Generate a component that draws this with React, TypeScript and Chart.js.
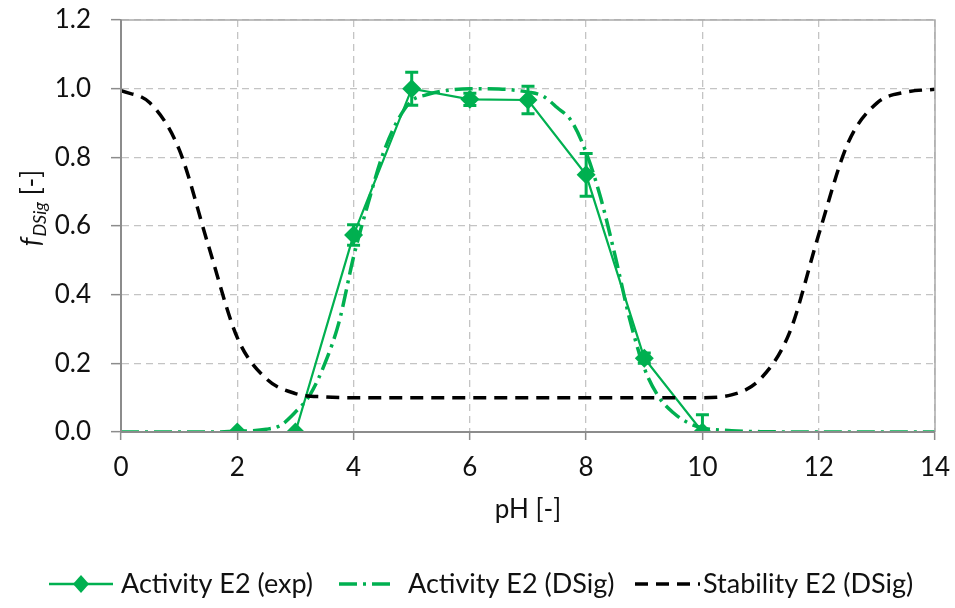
import React, { useEffect, useRef } from "react";
import { Chart, registerables } from "chart.js";

Chart.register(...registerables);

// ---------- data ----------
const expPH = [2, 3, 4, 5, 6, 7, 8, 9, 10];
const expActivity = [0, 0, 0.574, 1.0, 0.969, 0.967, 0.749, 0.215, 0];
const expError = [0, 0, 0.03, 0.048, 0.018, 0.04, 0.062, 0.015, 0.05];

const dsigPH = [0, 0.5, 1, 1.5, 2, 2.5, 2.75, 3, 3.25, 3.5, 3.75, 4, 4.25, 4.5, 4.75, 5, 5.25, 5.5, 6, 6.5, 7, 7.25, 7.5, 7.75, 8, 8.25, 8.5, 8.75, 9, 9.25, 9.5, 9.75, 10, 10.5, 11, 12, 13, 14];
const dsigActivity = [0, 0, 0, 0, 0.002, 0.008, 0.02, 0.058, 0.108, 0.197, 0.32, 0.51, 0.666, 0.807, 0.905, 0.965, 0.982, 0.992, 1.0, 0.999, 0.99, 0.979, 0.945, 0.905, 0.814, 0.682, 0.512, 0.328, 0.186, 0.102, 0.056, 0.027, 0.012, 0.004, 0.001, 0, 0, 0];

const stabPH = [0, 0.5, 1, 1.5, 2, 2.5, 3, 3.5, 4, 5, 6, 7, 8, 9, 10, 10.5, 11, 11.5, 12, 12.5, 13, 13.5, 14];
const stabValues = [0.994, 0.958, 0.823, 0.545, 0.275, 0.155, 0.112, 0.102, 0.1, 0.1, 0.1, 0.1, 0.1, 0.1, 0.1, 0.108, 0.155, 0.29, 0.575, 0.84, 0.958, 0.99, 0.998];

const xTicksMax = 14;
const yTicksMax = 1.2;

const seriesLabels = ["Activity E2 (exp)", "Activity E2 (DSig)", "Stability E2 (DSig)"];
const xTitle = "pH [-]";

// ---------- styles ----------
const GREEN = "#00B050";
const FONT = "Lato, 'Open Sans', sans-serif";
const TEXT = "#111111";
const FS = 26;
const DASHDOT = [18, 6, 3, 6];
const DASHED = [13, 8];

const toPts = (xs: number[], ys: number[]) => xs.map((x, i) => ({ x, y: ys[i] }));

const errorBarPlugin = {
  id: "errorBars",
  afterDatasetsDraw(chart: any) {
    const { ctx, chartArea, scales } = chart;
    const xs = scales.x;
    const ys = scales.y;
    ctx.save();
    ctx.beginPath();
    ctx.rect(chartArea.left, chartArea.top, chartArea.right - chartArea.left, chartArea.bottom - chartArea.top);
    ctx.clip();
    ctx.strokeStyle = GREEN;
    ctx.lineWidth = 3;
    ctx.setLineDash([]);
    expPH.forEach((p, i) => {
      const e = expError[i];
      if (!e) return;
      const x = xs.getPixelForValue(p);
      const yt = ys.getPixelForValue(expActivity[i] + e);
      const yb = ys.getPixelForValue(expActivity[i] - e);
      ctx.beginPath();
      ctx.moveTo(x, yt);
      ctx.lineTo(x, yb);
      ctx.moveTo(x - 6.5, yt);
      ctx.lineTo(x + 6.5, yt);
      ctx.moveTo(x - 6.5, yb);
      ctx.lineTo(x + 6.5, yb);
      ctx.stroke();
    });
    ctx.restore();
  },
};

const framePlugin = {
  id: "frame",
  afterDraw(chart: any) {
    const { ctx, chartArea } = chart;
    const { left, right, top, bottom } = chartArea;
    ctx.save();
    ctx.setLineDash([]);
    ctx.strokeStyle = "#ABABAB";
    ctx.lineWidth = 1.5;
    ctx.beginPath();
    ctx.moveTo(left, top);
    ctx.lineTo(right, top);
    ctx.lineTo(right, bottom);
    ctx.stroke();
    ctx.strokeStyle = "#8C8C8C";
    ctx.lineWidth = 2;
    ctx.beginPath();
    ctx.moveTo(left, top);
    ctx.lineTo(left, bottom);
    ctx.lineTo(right, bottom);
    ctx.stroke();

    // y-axis title: f_DSig [-]
    const cx = 31;
    const cy = 208;
    ctx.translate(cx, cy);
    ctx.rotate(-Math.PI / 2);
    ctx.fillStyle = TEXT;
    ctx.textBaseline = "alphabetic";
    ctx.textAlign = "left";
    const fMain = `italic 27px ${FONT}`;
    const fSub = `italic 18px ${FONT}`;
    const fNorm = `26px ${FONT}`;
    ctx.font = fMain;
    const w1 = ctx.measureText("f").width;
    ctx.font = fSub;
    const w2 = ctx.measureText("DSig").width;
    ctx.font = fNorm;
    const w3 = ctx.measureText(" [-]").width;
    const total = w1 + w2 + w3 + 1;
    let x0 = -total / 2;
    const base = 9;
    ctx.font = fMain;
    ctx.fillText("f", x0, base);
    x0 += w1 + 1;
    ctx.font = fSub;
    ctx.fillText("DSig", x0, base + 6);
    x0 += w2;
    ctx.font = fNorm;
    ctx.fillText(" [-]", x0, base);
    ctx.restore();

    // legend
    ctx.save();
    const ly = 584;
    ctx.font = `27px ${FONT}`;
    ctx.fillStyle = TEXT;
    ctx.textBaseline = "middle";
    ctx.textAlign = "left";
    // item 1
    ctx.strokeStyle = GREEN;
    ctx.lineWidth = 2.5;
    ctx.setLineDash([]);
    ctx.beginPath();
    ctx.moveTo(49, ly);
    ctx.lineTo(113, ly);
    ctx.stroke();
    ctx.fillStyle = GREEN;
    ctx.beginPath();
    ctx.moveTo(81, ly - 9);
    ctx.lineTo(89, ly);
    ctx.lineTo(81, ly + 9);
    ctx.lineTo(73, ly);
    ctx.closePath();
    ctx.fill();
    ctx.fillStyle = TEXT;
    ctx.fillText(seriesLabels[0], 121, ly);
    // item 2
    ctx.strokeStyle = GREEN;
    ctx.lineWidth = 3.5;
    ctx.setLineDash(DASHDOT);
    ctx.beginPath();
    ctx.moveTo(339, ly);
    ctx.lineTo(391, ly);
    ctx.stroke();
    ctx.fillText(seriesLabels[1], 408, ly);
    // item 3
    ctx.strokeStyle = "#000";
    ctx.lineWidth = 3.5;
    ctx.setLineDash(DASHED);
    ctx.beginPath();
    ctx.moveTo(635, ly);
    ctx.lineTo(700, ly);
    ctx.stroke();
    ctx.fillText(seriesLabels[2], 703, ly);
    ctx.restore();
  },
};

export default function App() {
  const ref = useRef<HTMLCanvasElement | null>(null);

  useEffect(() => {
    if (!ref.current) return;
    const chart = new Chart(ref.current, {
      type: "line",
      data: {
        datasets: [
          {
            label: seriesLabels[0],
            data: toPts(expPH, expActivity),
            borderColor: GREEN,
            backgroundColor: GREEN,
            borderWidth: 2.2,
            pointStyle: "rectRot",
            pointRadius: 9.5,
            pointBorderWidth: 0,
            pointBackgroundColor: GREEN,
            tension: 0,
            order: 2,
          },
          {
            label: seriesLabels[1],
            data: toPts(dsigPH, dsigActivity),
            borderColor: GREEN,
            borderWidth: 3.5,
            borderDash: DASHDOT,
            pointRadius: 0,
            cubicInterpolationMode: "monotone",
            order: 1,
          },
          {
            label: seriesLabels[2],
            data: toPts(stabPH, stabValues),
            borderColor: "#000000",
            borderWidth: 3.5,
            borderDash: DASHED,
            pointRadius: 0,
            cubicInterpolationMode: "monotone",
            order: 0,
          },
        ],
      },
      options: {
        animation: false,
        responsive: false,
        maintainAspectRatio: false,
        events: [],
        layout: { padding: { left: 0, right: 20, top: 20, bottom: 0 } },
        plugins: {
          legend: { display: false },
          tooltip: { enabled: false },
          title: { display: false },
        },
        scales: {
          x: {
            type: "linear",
            min: 0,
            max: xTicksMax,
            ticks: {
              stepSize: 2,
              color: TEXT,
              font: { family: FONT, size: FS },
              padding: 12,
            },
            grid: {
              color: "#C4C4C4",
              lineWidth: 1.3,
              tickColor: "#8C8C8C",
              tickLength: 8,
              tickWidth: 1.5,
            },
            border: { display: true, color: "#8C8C8C", width: 2, dash: [7, 5] },
            title: {
              display: true,
              text: xTitle,
              color: TEXT,
              font: { family: FONT, size: FS },
              padding: { top: 0, bottom: 83 },
            },
            afterFit: (s: any) => {
              s.height = 176;
              s.paddingLeft = 0;
              s.paddingRight = 0;
            },
          },
          y: {
            type: "linear",
            min: 0,
            max: yTicksMax,
            ticks: {
              stepSize: 0.2,
              color: TEXT,
              font: { family: FONT, size: FS },
              padding: 20,
              callback: (v: any) => Number(v).toFixed(1),
            },
            grid: {
              color: "#C4C4C4",
              lineWidth: 1.3,
              tickColor: "#8C8C8C",
              tickLength: 10,
              tickWidth: 1.5,
            },
            border: { display: true, color: "#8C8C8C", width: 2, dash: [7, 5] },
            afterFit: (s: any) => {
              s.width = 121;
              s.paddingTop = 0;
              s.paddingBottom = 0;
            },
          },
        },
      },
      plugins: [errorBarPlugin, framePlugin],
    });
    return () => chart.destroy();
  }, []);

  return (
    <div style={{ position: "fixed", left: 0, top: 0, width: 955, height: 608, background: "#fff" }}>
      <canvas ref={ref} width={955} height={608} style={{ width: 955, height: 608, display: "block" }} />
    </div>
  );
}
